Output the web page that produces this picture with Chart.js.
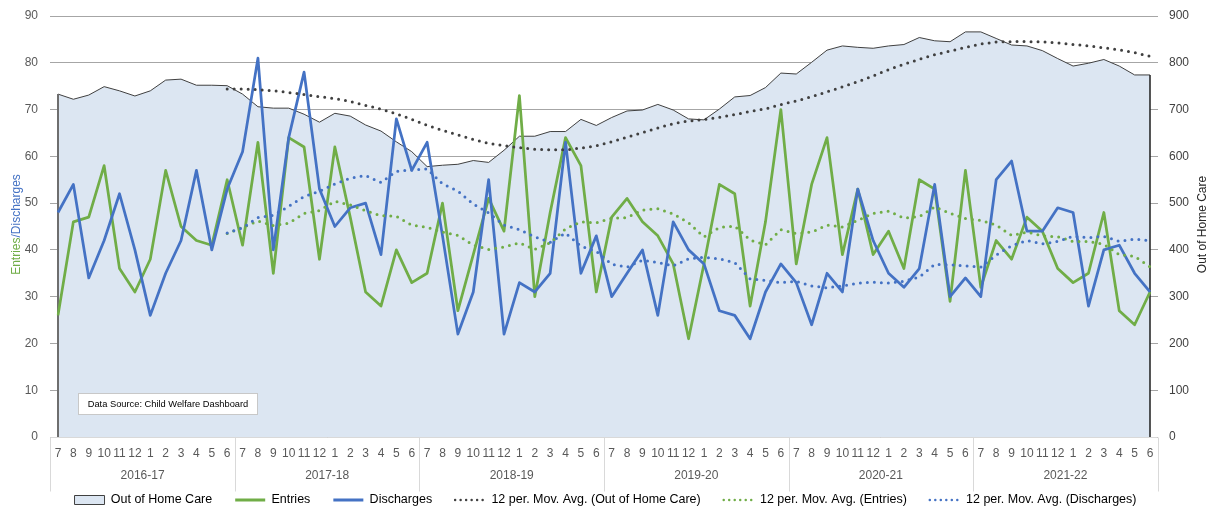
<!DOCTYPE html>
<html>
<head>
<meta charset="utf-8">
<title>Out of Home Care, Entries and Discharges</title>
<script src="https://cdn.jsdelivr.net/npm/chart.js@4.4.1/dist/chart.umd.min.js"></script>
<style>
  html, body { margin: 0; padding: 0; background: #ffffff; }
  #wrap { width: 1211px; height: 510px; }
  canvas { display: block; }
</style>
</head>
<body>
<div id="wrap"><canvas id="chart" width="1211" height="510"></canvas></div>
<script>
// Month tick labels (financial year July..June) and the year groups beneath them
const monthTicks = ['7', '8', '9', '10', '11', '12', '1', '2', '3', '4', '5', '6'];
const yearGroups = ['2016-17', '2017-18', '2018-19', '2019-20', '2020-21', '2021-22'];

// Children in out of home care (right axis)
const outOfHomeCare = [
  733, 722, 731, 749, 740, 729, 740, 763, 765, 752, 752, 751,
  733, 706, 703, 703, 690, 673, 692, 686, 667, 654, 631, 610,
  578, 581, 583, 591, 587, 613, 643, 643, 653, 653, 679, 666,
  683, 697, 699, 711, 699, 680, 678, 701, 727, 730, 747, 778,
  776, 801, 827, 836, 833, 831, 836, 839, 854, 847, 845, 866,
  866, 852, 838, 836, 826, 809, 793, 799, 807, 793, 774, 774
];

// Monthly entries into care (left axis)
const entries = [
  26, 46, 47, 58, 36, 31, 38, 57, 45, 42, 41, 55,
  41, 63, 35, 64, 62, 38, 62, 47, 31, 28, 40, 33,
  35, 50, 27, 39, 51, 44, 73, 30, 48, 64, 58, 31,
  47, 51, 46, 43, 37, 21, 37, 54, 52, 28, 46, 70,
  37, 54, 64, 39, 53, 39, 44, 36, 55, 53, 29, 57,
  32, 42, 38, 47, 44, 36, 33, 35, 48, 27, 24, 31
];

// Monthly discharges from care (left axis)
const discharges = [
  48, 54, 34, 42, 52, 40, 26, 35, 42, 57, 40, 53,
  61, 81, 40, 64, 78, 53, 45, 49, 50, 39, 68, 57,
  63, 43, 22, 31, 55, 22, 33, 31, 35, 63, 35, 43,
  30, 35, 40, 26, 46, 40, 37, 27, 26, 21, 31, 37,
  33, 24, 35, 31, 53, 42, 35, 32, 36, 54, 30, 34,
  30, 55, 59, 44, 44, 49, 48, 28, 40, 41, 35, 31
];

// 12 period moving averages (first eleven months have no value)
const avgOutOfHomeCare = [
  null, null, null, null, null, null, null, null, null, null, null,
  743.9, 743.9, 742.6, 740.3, 736.4, 732.3, 727.6, 723.6, 717.2, 709.0, 700.8, 690.8, 679.0,
  666.1, 655.7, 645.7, 636.3, 627.8, 622.8, 618.7, 615.1, 613.9, 613.8, 617.8, 622.5,
  631.3, 640.9, 650.6, 660.6, 669.9, 675.5, 678.4, 683.3, 689.4, 695.8, 701.5, 710.8,
  718.6, 727.3, 737.9, 748.3, 759.5, 772.1, 785.3, 796.8, 807.3, 817.1, 825.3, 832.6,
  840.1, 844.3, 845.3, 845.3, 844.7, 842.8, 839.3, 835.9, 832.0, 827.5, 821.6, 813.9
];
const avgEntries = [
  null, null, null, null, null, null, null, null, null, null, null,
  43.5, 44.8, 46.2, 45.2, 45.7, 47.8, 48.4, 50.4, 49.6, 48.4, 47.3, 47.2, 45.3,
  44.8, 43.8, 43.1, 41.0, 40.1, 40.6, 41.5, 40.1, 41.5, 44.5, 46.0, 45.8,
  46.8, 46.9, 48.5, 48.8, 47.7, 45.8, 42.8, 44.8, 45.1, 42.1, 41.1, 44.3,
  43.5, 43.8, 45.3, 44.9, 46.3, 47.8, 48.3, 46.8, 47.1, 49.2, 47.8, 46.7,
  46.3, 45.3, 43.1, 43.8, 43.0, 42.8, 41.8, 41.8, 41.2, 39.0, 38.6, 36.4
];
const avgDischarges = [
  null, null, null, null, null, null, null, null, null, null, null,
  43.6, 44.7, 46.9, 47.4, 49.3, 51.4, 52.5, 54.1, 55.3, 55.9, 54.4, 56.8, 57.1,
  57.3, 54.1, 52.6, 49.8, 47.9, 45.3, 44.3, 42.8, 41.6, 43.6, 40.8, 39.7,
  36.9, 36.3, 37.8, 37.3, 36.6, 38.1, 38.4, 38.1, 37.3, 33.8, 33.5, 33.0,
  33.3, 32.3, 31.9, 32.3, 32.9, 33.1, 32.9, 33.3, 34.2, 36.9, 36.8, 36.6,
  36.3, 38.9, 40.9, 42.0, 41.3, 41.8, 42.9, 42.6, 42.9, 41.8, 42.3, 42.0
];

const leftTitleParts = ['Entries', '/Discharges'];
const rightTitle = 'Out of Home Care';
const sourceNote = 'Data Source: Child Welfare Dashboard';

const GREEN = '#70AD47';
const BLUE = '#4472C4';
const AREA_FILL = '#DCE6F2';
const DARK = '#404040';
const FONT = '"Liberation Sans", Arial, Helvetica, sans-serif';

// One label per month, repeated for every financial year
const labels = [];
yearGroups.forEach(() => monthTicks.forEach(m => labels.push(m)));

Chart.defaults.font.family = FONT;
Chart.defaults.font.size = 12;
Chart.defaults.color = '#595959';

const legendEntries = [
  { text: 'Out of Home Care', fillStyle: AREA_FILL, strokeStyle: DARK, lineWidth: 1, pointStyle: 'rect', lineDash: [], lineCap: 'butt' },
  { text: 'Entries', fillStyle: 'rgba(0,0,0,0)', strokeStyle: GREEN, lineWidth: 3, pointStyle: 'line', lineDash: [], lineCap: 'butt' },
  { text: 'Discharges', fillStyle: 'rgba(0,0,0,0)', strokeStyle: BLUE, lineWidth: 3, pointStyle: 'line', lineDash: [], lineCap: 'butt' },
  { text: '12 per. Mov. Avg. (Out of Home Care)', fillStyle: 'rgba(0,0,0,0)', strokeStyle: DARK, lineWidth: 2.5, pointStyle: 'line', lineDash: [0, 5.5], lineCap: 'round' },
  { text: '12 per. Mov. Avg. (Entries)', fillStyle: 'rgba(0,0,0,0)', strokeStyle: GREEN, lineWidth: 2.5, pointStyle: 'line', lineDash: [0, 5.5], lineCap: 'round' },
  { text: '12 per. Mov. Avg. (Discharges)', fillStyle: 'rgba(0,0,0,0)', strokeStyle: BLUE, lineWidth: 2.5, pointStyle: 'line', lineDash: [0, 5.5], lineCap: 'round' }
];

// Extra drawing: area side edges, category axis with year groups, note box, axis titles
const decorations = {
  id: 'decorations',
  afterDatasetDraw(chart, args) {
    if (args.index !== 0) return;
    const meta = chart.getDatasetMeta(0);
    const pts = meta.data;
    const base = chart.scales.y1.getPixelForValue(0);
    const ctx = chart.ctx;
    ctx.save();
    ctx.lineWidth = 2;
    ctx.strokeStyle = '#6e6e6e';
    ctx.beginPath();
    ctx.moveTo(pts[0].x, pts[0].y);
    ctx.lineTo(pts[0].x, base);
    ctx.stroke();
    ctx.lineWidth = 1.5;
    ctx.strokeStyle = '#1e1e1e';
    ctx.beginPath();
    ctx.moveTo(pts[pts.length - 1].x, pts[pts.length - 1].y);
    ctx.lineTo(pts[pts.length - 1].x, base);
    ctx.stroke();
    ctx.restore();
  },
  afterDatasetsDraw(chart) {
    const ctx = chart.ctx;
    const area = chart.chartArea;
    const xs = chart.scales.x;
    const step = xs.getPixelForValue(1) - xs.getPixelForValue(0);
    const half = step / 2;
    const n = labels.length;
    const x0 = xs.getPixelForValue(0) - half;
    const x1 = xs.getPixelForValue(n - 1) + half;
    const yb = Math.round(area.bottom) + 0.5;

    ctx.save();
    ctx.strokeStyle = '#d9d9d9';
    ctx.lineWidth = 1;
    ctx.beginPath();
    ctx.moveTo(x0, yb);
    ctx.lineTo(x1, yb);
    for (let g = 0; g <= yearGroups.length; g++) {
      const idx = g * monthTicks.length;
      const x = Math.round(idx < n ? xs.getPixelForValue(idx) - half : x1) + 0.5;
      ctx.moveTo(x, yb);
      ctx.lineTo(x, yb + 54);
    }
    ctx.stroke();

    ctx.fillStyle = '#595959';
    ctx.font = '12px ' + FONT;
    ctx.textAlign = 'center';
    ctx.textBaseline = 'middle';
    yearGroups.forEach((yr, g) => {
      const a = xs.getPixelForValue(g * monthTicks.length);
      const b = xs.getPixelForValue(g * monthTicks.length + monthTicks.length - 1);
      ctx.fillText(yr, (a + b) / 2, area.bottom + 39);
    });

    // data source note
    ctx.font = '9.3px ' + FONT;
    const tw = ctx.measureText(sourceNote).width;
    const bx = Math.round(area.left + 20) + 0.5;
    const by = Math.round(area.bottom - 44) + 0.5;
    const bw = Math.round(tw + 18);
    const bh = 21;
    ctx.fillStyle = '#ffffff';
    ctx.fillRect(bx, by, bw, bh);
    ctx.strokeStyle = '#c8c8c8';
    ctx.strokeRect(bx, by, bw, bh);
    ctx.fillStyle = '#000000';
    ctx.fillText(sourceNote, bx + bw / 2, by + bh / 2 + 0.5);
    ctx.restore();
  },
  afterDraw(chart) {
    const ctx = chart.ctx;
    const area = chart.chartArea;
    const cy = (area.top + area.bottom) / 2 - 2;
    ctx.save();
    ctx.font = '12px ' + FONT;
    ctx.textBaseline = 'middle';
    ctx.textAlign = 'left';
    ctx.translate(17, cy);
    ctx.rotate(-Math.PI / 2);
    const w1 = ctx.measureText(leftTitleParts[0]).width;
    const w2 = ctx.measureText(leftTitleParts[1]).width;
    const start = -(w1 + w2) / 2;
    ctx.fillStyle = GREEN;
    ctx.fillText(leftTitleParts[0], start, 0);
    ctx.fillStyle = BLUE;
    ctx.fillText(leftTitleParts[1], start + w1, 0);
    ctx.restore();

    ctx.save();
    ctx.font = '12px ' + FONT;
    ctx.textBaseline = 'middle';
    ctx.textAlign = 'center';
    ctx.fillStyle = '#262626';
    ctx.translate(1203, cy);
    ctx.rotate(-Math.PI / 2);
    ctx.fillText(rightTitle, 0, 0);
    ctx.restore();
  }
};

// Fixed axis widths; vertical label overhang is left to the layout padding
function fixAxisWidth(width) {
  return function (scale) {
    scale.width = width;
    scale.paddingTop = 0;
    scale.paddingBottom = 0;
  };
}

new Chart(document.getElementById('chart'), {
  type: 'line',
  data: {
    labels: labels,
    datasets: [
      {
        label: 'Out of Home Care', data: outOfHomeCare, yAxisID: 'y1',
        fill: 'origin', backgroundColor: AREA_FILL, borderColor: DARK, borderWidth: 1,
        pointRadius: 0, tension: 0, order: 10
      },
      {
        label: 'Entries', data: entries, yAxisID: 'y',
        borderColor: GREEN, borderWidth: 2.75, borderJoinStyle: 'round', fill: false,
        pointRadius: 0, tension: 0, order: 5
      },
      {
        label: 'Discharges', data: discharges, yAxisID: 'y',
        borderColor: BLUE, borderWidth: 2.75, borderJoinStyle: 'round', fill: false,
        pointRadius: 0, tension: 0, order: 4
      },
      {
        label: '12 per. Mov. Avg. (Out of Home Care)', data: avgOutOfHomeCare, yAxisID: 'y1',
        borderColor: DARK, borderWidth: 3, borderDash: [0, 7], borderCapStyle: 'round', fill: false,
        pointRadius: 0, tension: 0, spanGaps: false, order: 3
      },
      {
        label: '12 per. Mov. Avg. (Entries)', data: avgEntries, yAxisID: 'y',
        borderColor: GREEN, borderWidth: 3, borderDash: [0, 7], borderCapStyle: 'round', fill: false,
        pointRadius: 0, tension: 0, spanGaps: false, order: 2
      },
      {
        label: '12 per. Mov. Avg. (Discharges)', data: avgDischarges, yAxisID: 'y',
        borderColor: BLUE, borderWidth: 3, borderDash: [0, 7], borderCapStyle: 'round', fill: false,
        pointRadius: 0, tension: 0, spanGaps: false, order: 1
      }
    ]
  },
  options: {
    responsive: false,
    animation: false,
    devicePixelRatio: 1,
    layout: { padding: { top: 16, left: 0, right: 0, bottom: -6.25 } },
    plugins: {
      tooltip: { enabled: false },
      title: { display: false },
      legend: {
        position: 'bottom',
        align: 'center',
        labels: {
          usePointStyle: true,
          pointStyleWidth: 30,
          boxHeight: 9,
          padding: 23,
          color: '#404040',
          font: { size: 12.5, family: FONT },
          generateLabels: () => legendEntries.map((e, i) => Object.assign({ datasetIndex: i, hidden: false }, e))
        }
      }
    },
    scales: {
      x: {
        type: 'category',
        offset: false,
        grid: { display: false, drawTicks: false },
        border: { display: false },
        ticks: { autoSkip: false, maxRotation: 0, minRotation: 0, padding: 9, color: '#595959', font: { size: 12 } },
        afterFit(scale) { scale.height = 33.75; }
      },
      y: {
        position: 'left',
        min: 0, max: 90,
        ticks: { stepSize: 10, padding: 12, color: '#595959', font: { size: 12 } },
        grid: { color: '#a6a6a6', lineWidth: 1, drawTicks: true, tickLength: 8 },
        border: { display: false },
        afterFit: fixAxisWidth(58)
      },
      y1: {
        position: 'right',
        min: 0, max: 900,
        ticks: { stepSize: 100, padding: 11, color: '#404040', font: { size: 12 } },
        grid: { drawOnChartArea: false, color: '#a6a6a6', drawTicks: true, tickLength: 8 },
        border: { display: false },
        afterFit: fixAxisWidth(61)
      }
    }
  },
  plugins: [decorations]
});
</script>
</body>
</html>
